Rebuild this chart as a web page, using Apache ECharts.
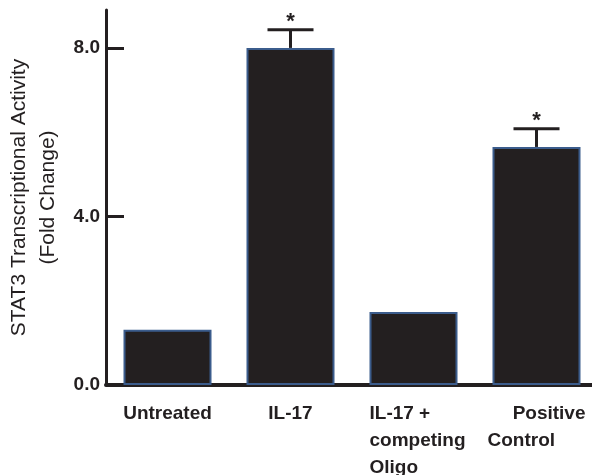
<!DOCTYPE html>
<html>
<head>
<meta charset="utf-8">
<script src="https://cdn.jsdelivr.net/npm/echarts@6/dist/echarts.min.js"></script>
<style>html,body{margin:0;padding:0;background:#fff;}#c{width:592px;height:475px;}</style>
</head>
<body>
<div id="c"></div>
<script>
var categories = ['Untreated', 'IL-17', 'IL-17 +\ncompeting\nOligo', 'Positive\nControl'];
var values = [1.31, 8.0, 1.73, 5.65];
var errors = [0, 0.43, 0, 0.43];
var marks = ['', '*', '', '*'];
var yTicks = [0, 4, 8];
var yTitle = 'STAT3 Transcriptional Activity\n(Fold Change)';

var FONT = '"Liberation Sans", Arial, sans-serif';
var INK = '#231f20';
var LFS = 19;

var chart = echarts.init(document.getElementById('c'));

function rs(align, width) {
  return { align: align, width: width, fontFamily: FONT, fontSize: LFS, fontWeight: 'bold', color: INK, lineHeight: 27 };
}

chart.setOption({
  backgroundColor: '#fff',
  animation: false,
  grid: { left: 106, right: -6, top: 10, bottom: 90, containLabel: false, outerBoundsMode: 'none' },
  xAxis: {
    type: 'category',
    data: categories,
    axisLine: { lineStyle: { color: INK, width: 4 } },
    axisTick: { show: false },
    axisLabel: {
      interval: 0,
      margin: 15,
      color: INK,
      fontFamily: FONT,
      fontSize: LFS,
      fontWeight: 'bold',
      lineHeight: 27,
      formatter: function (v, idx) {
        var lines = v.split('\n');
        if (idx === 2) {
          return lines.map(function (l) { return '{l|' + l + '}'; }).join('\n');
        }
        if (idx === 3) {
          return '{r|' + lines[0] + '}\n{l2|' + lines[1] + '}';
        }
        return v;
      },
      rich: {
        l: rs('left', 88),
        r: rs('right', 98),
        l2: rs('left', 98)
      }
    }
  },
  yAxis: {
    type: 'value',
    min: 0,
    max: 8.9,
    splitLine: { show: false },
    axisLine: { show: true, lineStyle: { color: INK, width: 3 } },
    axisTick: { show: true, inside: true, length: 18, lineStyle: { color: INK, width: 3 }, customValues: yTicks },
    axisLabel: {
      customValues: yTicks,
      margin: 6,
      color: INK,
      fontFamily: FONT,
      fontSize: 19,
      fontWeight: 'bold',
      formatter: function (v) { return v.toFixed(1); }
    },
    name: yTitle,
    nameLocation: 'middle',
    nameGap: 41,
    nameTextStyle: { color: INK, fontFamily: FONT, fontSize: 21, lineHeight: 29, align: 'center', padding: [0, 0, 0, 0] }
  },
  series: [
    {
      type: 'bar',
      data: values,
      barWidth: 88,
      itemStyle: { color: INK, borderColor: '#3b5c8c', borderWidth: 2 },
      z: 2
    },
    {
      type: 'custom',
      data: values.map(function (v, i) { return [i, v, errors[i]]; }),
      z: 3,
      renderItem: function (params, api) {
        var i = api.value(0), v = api.value(1), e = api.value(2);
        var mark = marks[params.dataIndex];
        if (!e) return { type: 'group', children: [] };
        var base = api.coord([i, v]);
        var top = api.coord([i, v + e]);
        var half = 23;
        var st = { stroke: INK, lineWidth: 3 };
        var children = [
          { type: 'line', shape: { x1: base[0], y1: base[1], x2: top[0], y2: top[1] }, style: st },
          { type: 'line', shape: { x1: top[0] - half, y1: top[1], x2: top[0] + half, y2: top[1] }, style: st }
        ];
        if (mark) {
          children.push({
            type: 'text',
            style: { text: mark, x: top[0], y: top[1] + 3, align: 'center', verticalAlign: 'bottom',
              font: 'bold 22px ' + FONT, fill: INK }
          });
        }
        return { type: 'group', children: children };
      }
    }
  ]
});
</script>
</body>
</html>
